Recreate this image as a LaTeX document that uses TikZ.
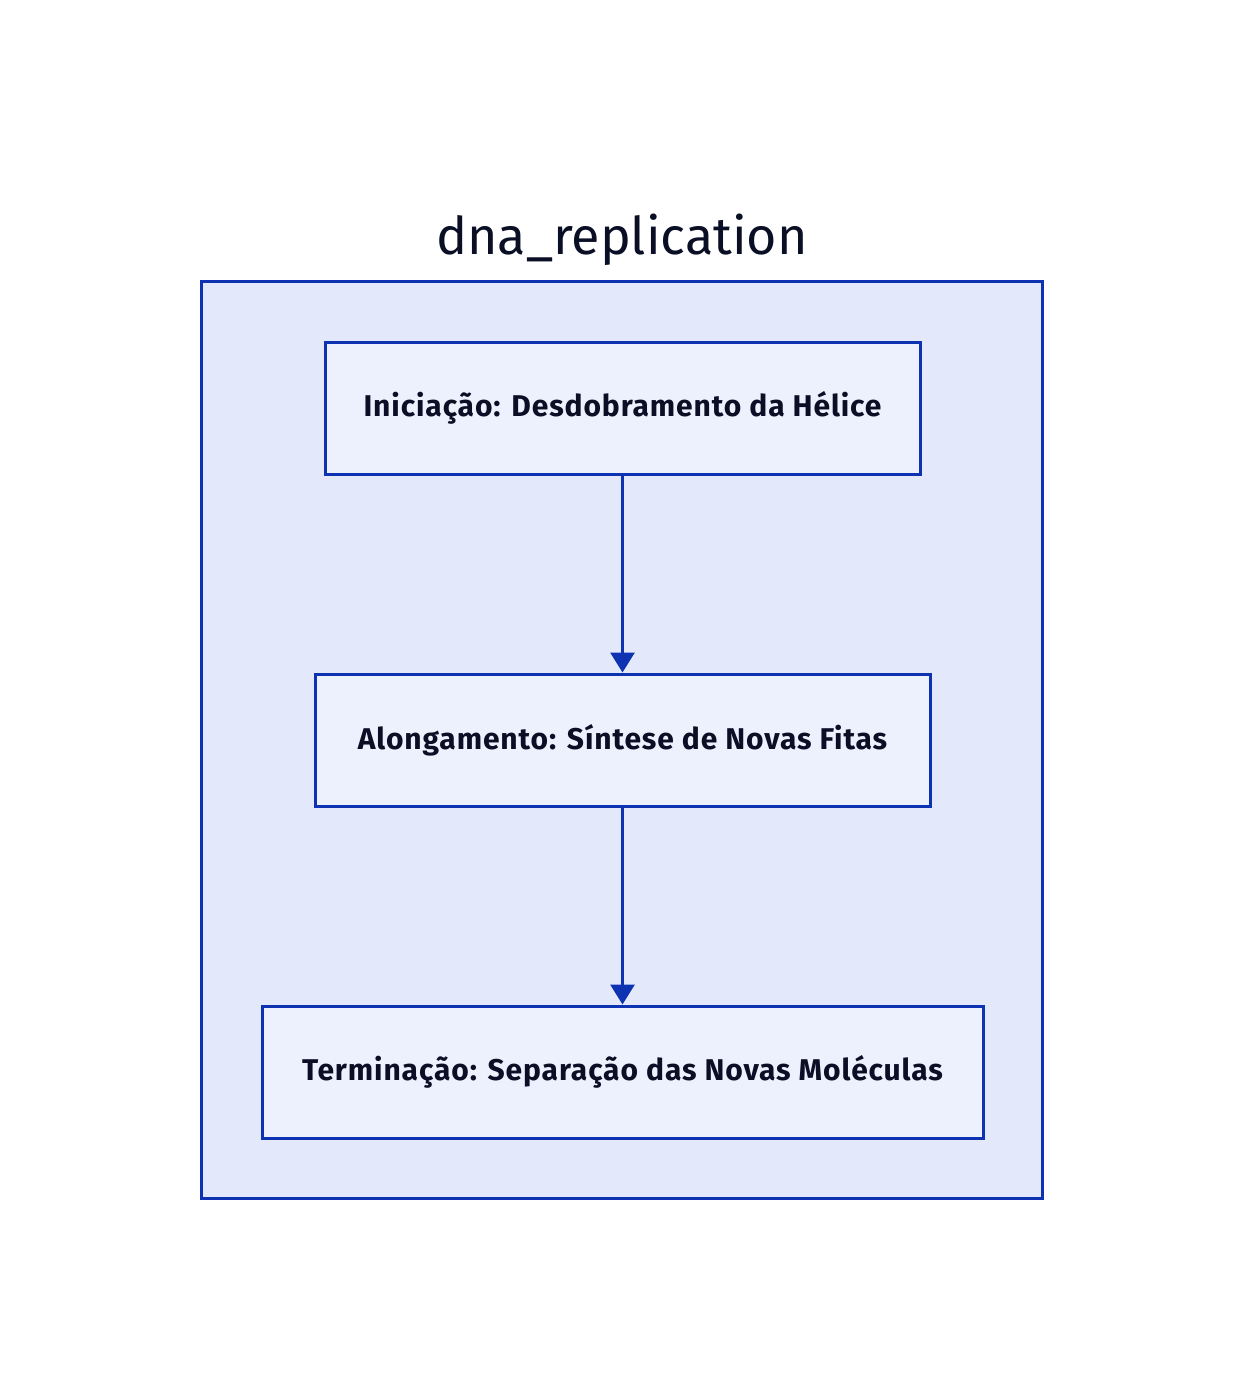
\documentclass[tikz,border=0pt]{standalone}
\usepackage{fontspec}
\setmainfont{Fira Sans}
\newfontfamily\stagefont{Fira Sans}[LetterSpace=3]
\usetikzlibrary{arrows.meta}
\definecolor{d2blue}{HTML}{0D32B2}
\definecolor{d2outer}{HTML}{E3E9FB}
\definecolor{d2inner}{HTML}{EDF0FD}
\definecolor{d2ink}{HTML}{0A0F25}
\tikzset{
  stage/.style={draw=d2blue, line width=3pt, fill=d2inner, minimum height=132pt,
    inner sep=0pt, text=d2ink, font=\fontsize{30}{36}\stagefont\bfseries},
  flow/.style={draw=d2blue, line width=3pt, -{Triangle[length=20pt,width=24pt]}}
}
\begin{document}
\begin{tikzpicture}[x=1pt,y=-1pt]
  \useasboundingbox[fill=white] (0,0) rectangle (1244,1400);
  \draw[draw=d2blue, line width=3pt, fill=d2outer] (201,281) rectangle (1042,1198);
  \node[text=d2ink, font=\fontsize{52}{60}\selectfont] (title) at (622,240) {dna\_replication};
  \node[stage, minimum width=595pt] (init) at (622.5,408) {Iniciação: Desdobramento da Hélice};
  \node[stage, minimum width=615pt] (elong) at (622.5,740) {Alongamento: Síntese de Novas Fitas};
  \node[stage, minimum width=721pt] (term) at (622.5,1072) {Terminação: Separação das Novas Moléculas};
  \draw[flow] (init) -- (elong);
  \draw[flow] (elong) -- (term);
\end{tikzpicture}
\end{document}
